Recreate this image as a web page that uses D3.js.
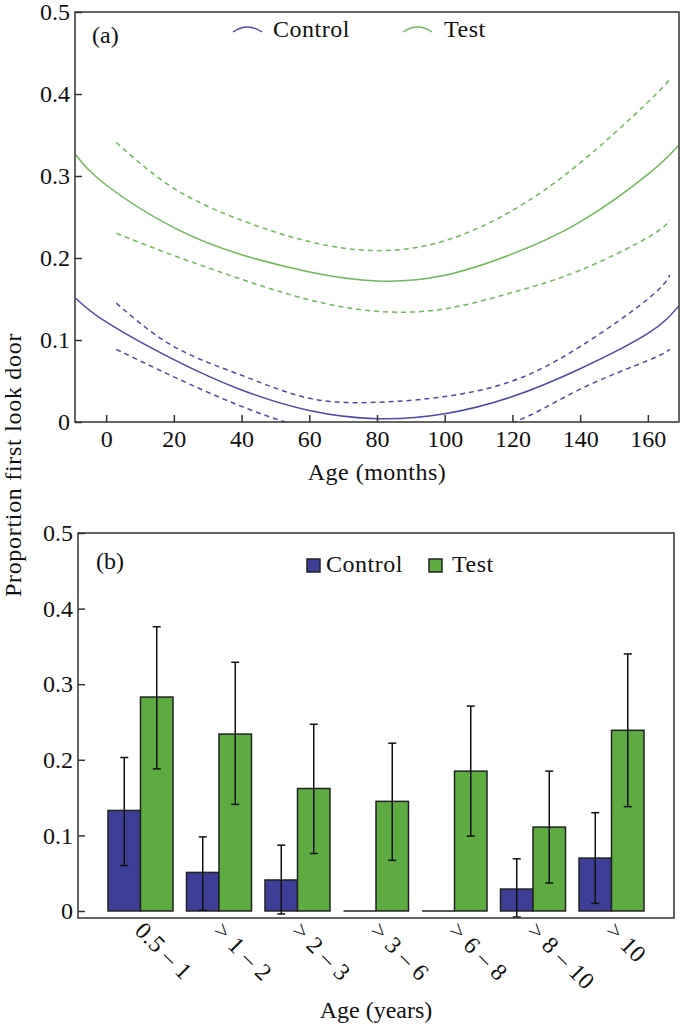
<!DOCTYPE html>
<html>
<head>
<meta charset="utf-8">
<script src="https://cdn.jsdelivr.net/npm/d3@7"></script>
<style>
  body { margin: 0; background: #fff; }
  svg text { font-family: "Liberation Serif", "DejaVu Serif", serif; fill: #111; }
</style>
</head>
<body>
<svg id="chart"></svg>
<script>
// panel (a): fitted curves, age in months
const months = [-9, 0, 20, 40, 60, 80, 100, 120, 140, 160, 169];
const controlFit = [0.151, 0.122, 0.076, 0.039, 0.014, 0.004, 0.010, 0.031, 0.065, 0.108, 0.141];
const testFit = [0.326, 0.289, 0.237, 0.204, 0.183, 0.172, 0.179, 0.205, 0.244, 0.302, 0.337];

const bandMonths = [3, 20, 40, 60, 80, 100, 120, 140, 160, 166.5];
const controlUpper = [0.145, 0.092, 0.057, 0.029, 0.024, 0.031, 0.050, 0.092, 0.150, 0.179];
const controlLower = [0.0886, 0.055, 0.019, -0.008, -0.020, -0.017, -0.001, 0.040, 0.075, 0.0886];
const testUpper = [0.341, 0.285, 0.246, 0.220, 0.209, 0.221, 0.258, 0.316, 0.390, 0.418];
const testLower = [0.230, 0.203, 0.174, 0.149, 0.135, 0.138, 0.158, 0.185, 0.225, 0.246];

const monthTicks = [0, 20, 40, 60, 80, 100, 120, 140, 160];
const propTicks = [0, 0.1, 0.2, 0.3, 0.4, 0.5];

// panel (b): bars, age classes in years
const ageClasses = ["0.5 – 1", "> 1 – 2", "> 2 – 3", "> 3 – 6", "> 6 – 8", "> 8 – 10", "> 10"];
const controlMean = [0.133, 0.051, 0.041, 0, 0, 0.029, 0.070];
const controlLo = [0.060, 0.001, -0.004, null, null, -0.008, 0.010];
const controlHi = [0.203, 0.098, 0.087, null, null, 0.069, 0.130];
const testMean = [0.283, 0.234, 0.162, 0.145, 0.185, 0.111, 0.239];
const testLo = [0.188, 0.141, 0.076, 0.067, 0.099, 0.037, 0.138];
const testHi = [0.376, 0.329, 0.247, 0.222, 0.271, 0.185, 0.340];

const groups = ["Control", "Test"];

const width = 680, height = 1026;
const lineColor = { Control: "#4b4bab", Test: "#6dba57" };
const barColor = { Control: "#3d3f97", Test: "#5dab41" };
const fmt = d => d === 0 ? "0" : d3.format(".1f")(d);

const svg = d3.select("#chart").attr("width", width).attr("height", height);

// ---------- panel (a) ----------
const a = { left: 75, right: 679, top: 12, bottom: 422 };
const xa = d3.scaleLinear().domain([-9.2, 169.2]).range([a.left, a.right]);
const ya = d3.scaleLinear().domain([0, 0.5]).range([a.bottom, a.top]);

svg.append("clipPath").attr("id", "clipA")
  .append("rect")
  .attr("x", a.left).attr("y", a.top)
  .attr("width", a.right - a.left).attr("height", a.bottom - a.top);

const gA = svg.append("g").attr("clip-path", "url(#clipA)");

const line = (xs, ys) => d3.line()
  .x((d, i) => xa(xs[i]))
  .y(d => ya(d))
  .curve(d3.curveNatural)(ys);

const curves = [
  { key: "Control", xs: bandMonths, ys: controlUpper, dash: "5,4" },
  { key: "Control", xs: bandMonths, ys: controlLower, dash: "5,4" },
  { key: "Control", xs: months, ys: controlFit, dash: null },
  { key: "Test", xs: bandMonths, ys: testUpper, dash: "5,4" },
  { key: "Test", xs: bandMonths, ys: testLower, dash: "5,4" },
  { key: "Test", xs: months, ys: testFit, dash: null }
];

gA.selectAll("path")
  .data(curves)
  .join("path")
  .attr("d", d => line(d.xs, d.ys))
  .attr("fill", "none")
  .attr("stroke", d => lineColor[d.key])
  .attr("stroke-width", 1.5)
  .attr("stroke-dasharray", d => d.dash);

svg.append("g")
  .attr("transform", `translate(0,${a.bottom})`)
  .call(d3.axisBottom(xa).tickValues(monthTicks).tickSize(-7).tickPadding(8).tickSizeOuter(0))
  .call(g => g.select(".domain").remove());

svg.append("g")
  .attr("transform", `translate(${a.left},0)`)
  .call(d3.axisLeft(ya).tickValues(propTicks).tickFormat(fmt).tickSize(-7).tickPadding(5).tickSizeOuter(0))
  .call(g => g.select(".domain").remove());

svg.append("rect")
  .attr("x", a.left).attr("y", a.top)
  .attr("width", a.right - a.left).attr("height", a.bottom - a.top)
  .attr("fill", "none").attr("stroke", "#333").attr("stroke-width", 1.5);

svg.append("text").attr("x", 92).attr("y", 43).style("font-size", "24px").text("(a)");

// legend (a): small arcs
const legA = [{ key: "Control", x: 233, tx: 273 }, { key: "Test", x: 403, tx: 444 }];
legA.forEach(l => {
  svg.append("path")
    .attr("d", `M${l.x},32 Q${l.x + 14.5},22 ${l.x + 29},32`)
    .attr("fill", "none").attr("stroke", lineColor[l.key]).attr("stroke-width", 1.5);
  svg.append("text").attr("x", l.tx).attr("y", 37).style("font-size", "24px")
    .style("letter-spacing", "0.5px").text(l.key);
});

svg.append("text")
  .attr("x", (a.left + a.right) / 2).attr("y", 480)
  .attr("text-anchor", "middle").style("font-size", "24px").style("letter-spacing", "0.5px")
  .text("Age (months)");

// ---------- panel (b) ----------
const b = { left: 78, right: 674, top: 533, bottom: 918 };
const xb = d3.scaleBand().domain(ageClasses).range([b.left, b.right])
  .paddingInner(0.172).paddingOuter(0.382);
const xs = d3.scaleBand().domain(groups).range([0, xb.bandwidth()]);
const yb = d3.scaleLinear().domain([-0.0093, 0.5]).range([b.bottom, b.top]);

const bars = [];
ageClasses.forEach((c, i) => {
  bars.push({ cls: c, key: "Control", v: controlMean[i], lo: controlLo[i], hi: controlHi[i] });
  bars.push({ cls: c, key: "Test", v: testMean[i], lo: testLo[i], hi: testHi[i] });
});

const gB = svg.append("g");
gB.selectAll("rect")
  .data(bars.filter(d => d.v > 0))
  .join("rect")
  .attr("x", d => xb(d.cls) + xs(d.key))
  .attr("y", d => yb(d.v))
  .attr("width", xs.bandwidth())
  .attr("height", d => yb(0) - yb(d.v))
  .attr("fill", d => barColor[d.key])
  .attr("stroke", "#222")
  .attr("stroke-width", 1.5);

// zero-valued bars show as a flat line at 0
gB.selectAll("line.zero")
  .data(bars.filter(d => d.v === 0))
  .join("line").attr("class", "zero")
  .attr("x1", d => xb(d.cls) + xs(d.key))
  .attr("x2", d => xb(d.cls) + xs(d.key) + xs.bandwidth())
  .attr("y1", yb(0)).attr("y2", yb(0))
  .attr("stroke", "#222").attr("stroke-width", 1.5);

const errs = bars.filter(d => d.lo !== null);
const cx = d => xb(d.cls) + xs(d.key) + xs.bandwidth() / 2;
const gE = svg.append("g").attr("stroke", "#111").attr("stroke-width", 1.5);
gE.selectAll("line.v").data(errs).join("line").attr("class", "v")
  .attr("x1", cx).attr("x2", cx)
  .attr("y1", d => yb(d.lo)).attr("y2", d => yb(d.hi));
gE.selectAll("line.t").data(errs).join("line").attr("class", "t")
  .attr("x1", d => cx(d) - 4).attr("x2", d => cx(d) + 4)
  .attr("y1", d => yb(d.hi)).attr("y2", d => yb(d.hi));
gE.selectAll("line.b").data(errs).join("line").attr("class", "b")
  .attr("x1", d => cx(d) - 4).attr("x2", d => cx(d) + 4)
  .attr("y1", d => yb(d.lo)).attr("y2", d => yb(d.lo));

svg.append("g")
  .attr("transform", `translate(${b.left},0)`)
  .call(d3.axisLeft(yb).tickValues(propTicks).tickFormat(fmt).tickSize(-7).tickPadding(5).tickSizeOuter(0))
  .call(g => g.select(".domain").remove());

svg.append("rect")
  .attr("x", b.left).attr("y", b.top)
  .attr("width", b.right - b.left).attr("height", b.bottom - b.top)
  .attr("fill", "none").attr("stroke", "#333").attr("stroke-width", 1.5);

// rotated category labels
svg.append("g").selectAll("text")
  .data(ageClasses)
  .join("text")
  .attr("transform", d => `translate(${xb(d) + xb.bandwidth() / 2 - 7},932) rotate(45)`)
  .style("font-size", "24px")
  .style("letter-spacing", "0.5px")
  .text(d => d);

svg.append("text").attr("x", 96).attr("y", 569).style("font-size", "24px").text("(b)");

const legB = [{ key: "Control", x: 307, tx: 326 }, { key: "Test", x: 429, tx: 452 }];
legB.forEach(l => {
  svg.append("rect").attr("x", l.x).attr("y", 559).attr("width", 13).attr("height", 13)
    .attr("fill", barColor[l.key]).attr("stroke", "#222").attr("stroke-width", 1.5);
  svg.append("text").attr("x", l.tx).attr("y", 572).style("font-size", "24px")
    .style("letter-spacing", "0.5px").text(l.key);
});

svg.append("text")
  .attr("x", (b.left + b.right) / 2).attr("y", 1018)
  .attr("text-anchor", "middle").style("font-size", "24px")
  .text("Age (years)");

// shared y label
svg.append("text")
  .attr("transform", "translate(21,465) rotate(-90)")
  .attr("text-anchor", "middle").style("font-size", "24px").style("letter-spacing", "0.7px")
  .text("Proportion first look door");

svg.selectAll(".tick text").style("font-size", "24px").style("font-family", '"Liberation Serif", serif').attr("fill", "#111");
svg.selectAll(".tick line").attr("stroke", "#333").attr("stroke-width", 1.5);
</script>
</body>
</html>
